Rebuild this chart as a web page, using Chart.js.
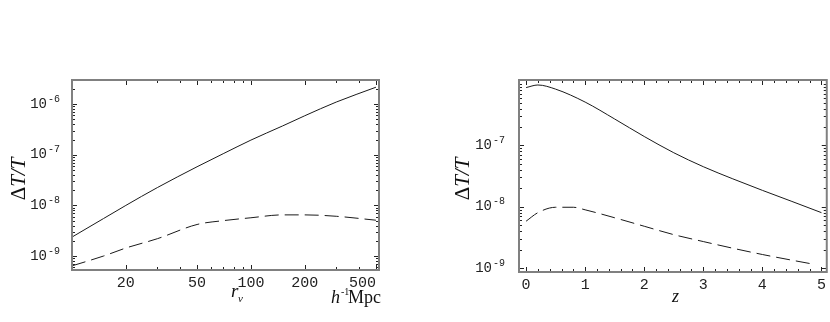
<!DOCTYPE html>
<html>
<head>
<meta charset="utf-8">
<script src="https://cdn.jsdelivr.net/npm/chart.js@4"></script>
<style>
  body { margin: 0; background: #fff; width: 830px; height: 322px; position: relative; overflow: hidden; }
  canvas { position: absolute; top: 0; }
  #leftPlot { left: 0; }
  #rightPlot { left: 415px; }
</style>
</head>
<body>
<canvas id="leftPlot" width="415" height="322"></canvas>
<canvas id="rightPlot" width="415" height="322"></canvas>
<script>
// === DATA === //
// left panel: dT/T against r_nu (h^-1 Mpc), log-log
const rNu        = [10, 15, 20, 30, 50, 70, 100, 150, 200, 300, 500];
const leftSolid  = [2.37e-9, 5.5e-9, 1.0e-8, 2.25e-8, 5.8e-8, 1.05e-7, 1.95e-7, 3.7e-7, 5.9e-7, 1.1e-6, 2.16e-6];
const leftDashed = [6.4e-10, 1.0e-9, 1.44e-9, 2.2e-9, 4.2e-9, 5.0e-9, 5.7e-9, 6.5e-9, 6.5e-9, 6.1e-9, 5.1e-9];
const leftXTicks  = [10, 20, 50, 100, 200, 500];
const leftXLabels = ["", "20", "50", "100", "200", "500"];
const leftYTicks  = [1e-9, 1e-8, 1e-7, 1e-6];
const leftYExps   = ["-9", "-8", "-7", "-6"];

// right panel: dT/T against redshift z
const zSolid      = [0, 0.2, 0.5, 1, 1.5, 2, 2.5, 3, 3.5, 4, 4.5, 5];
const rightSolid  = [8.8e-7, 9.7e-7, 8.3e-7, 5.1e-7, 2.7e-7, 1.4e-7, 7.6e-8, 4.5e-8, 2.85e-8, 1.85e-8, 1.22e-8, 8.0e-9];
const zDashed     = [0, 0.2, 0.5, 0.8, 1, 1.5, 2, 2.5, 3, 3.5, 4, 4.5, 4.85];
const rightDashed = [5.8e-9, 8e-9, 9.8e-9, 9.8e-9, 8.9e-9, 6.6e-9, 4.8e-9, 3.5e-9, 2.7e-9, 2.1e-9, 1.66e-9, 1.34e-9, 1.16e-9];
const rightXTicks = [0, 1, 2, 3, 4, 5];
const rightYTicks = [1e-9, 1e-8, 1e-7];
const rightYExps  = ["-9", "-8", "-7"];

// ---- helpers ---- //
const pts = (xs, ys) => xs.map((x, i) => ({ x, y: ys[i] }));

function logMinors(min, max) {
  const out = [];
  for (let e = Math.floor(Math.log10(min)); e <= Math.ceil(Math.log10(max)); e++) {
    for (let m = 1; m < 10; m++) {
      const v = m * Math.pow(10, e);
      if (v >= min && v <= max) out.push(v);
    }
  }
  return out;
}

// frame + inward ticks, Mathematica style
const frameTicks = {
  id: "frameTicks",
  afterDatasetsDraw(chart, args, o) {
    const { ctx, chartArea: a, scales: { x, y } } = chart;
    ctx.save();
    ctx.strokeStyle = "#222";
    ctx.lineWidth = 1;
    ctx.beginPath();
    o.xMinor.forEach(v => {
      const px = Math.round(x.getPixelForValue(v)) + 0.5;
      const len = o.xMajor.includes(v) ? 5 : 3;
      ctx.moveTo(px, a.bottom); ctx.lineTo(px, a.bottom - len);
      ctx.moveTo(px, a.top); ctx.lineTo(px, a.top + len);
    });
    o.yMinor.forEach(v => {
      const py = Math.round(y.getPixelForValue(v)) + 0.5;
      const len = o.yMajor.includes(v) ? 5 : 3;
      ctx.moveTo(a.left, py); ctx.lineTo(a.left + len, py);
      ctx.moveTo(a.right, py); ctx.lineTo(a.right - len, py);
    });
    ctx.stroke();
    ctx.strokeStyle = "#808080";
    ctx.lineWidth = 2;
    ctx.strokeRect(a.left, a.top, a.right - a.left, a.bottom - a.top);
    ctx.restore();
  }
};

// y tick labels as 10 with raised exponent, plus axis titles
const titles = {
  id: "titles",
  afterDraw(chart, args, o) {
    const { ctx, chartArea: a, scales: { y } } = chart;
    ctx.save();
    ctx.fillStyle = "#222";
    ctx.textBaseline = "middle";
    ctx.textAlign = "left";
    o.yTicks.forEach((v, i) => {
      const py = y.getPixelForValue(v);
      ctx.font = "10px 'Liberation Mono', monospace";
      const ew = ctx.measureText(o.yExps[i]).width;
      const xe = a.left - o.gap - ew;
      ctx.fillText(o.yExps[i], xe, py - 5);
      ctx.font = "14px 'Liberation Mono', monospace";
      const bw = ctx.measureText("10").width;
      ctx.fillText("10", xe - bw - 1, py);
    });
    ctx.fillStyle = "#111";
    ctx.textBaseline = "alphabetic";
    ctx.save();
    ctx.translate(o.yTitleX, o.yTitleY);
    ctx.rotate(-Math.PI / 2);
    ctx.font = "21px 'Liberation Serif'";
    const dw = ctx.measureText("Δ").width;
    ctx.font = "italic 21px 'Liberation Serif'";
    const tw = ctx.measureText("T/T").width;
    ctx.font = "21px 'Liberation Serif'";
    ctx.fillText("Δ", -(dw + tw) / 2, 0);
    ctx.font = "italic 21px 'Liberation Serif'";
    ctx.fillText("T/T", -(dw + tw) / 2 + dw, 0);
    ctx.restore();
    o.texts.forEach(t => {
      ctx.font = t.font;
      ctx.fillText(t.text, t.x, t.y);
    });
    ctx.restore();
  }
};

const tickFont = { family: "'Liberation Mono', monospace", size: 15 };
const lineStyle = { borderColor: "#1a1a1a", borderWidth: 1, pointRadius: 0, fill: false, cubicInterpolationMode: "monotone" };
const hiddenY = { display: true, autoSkip: false, callback: () => "" };

// ---- LEFT: r_nu ---- //
new Chart(document.getElementById("leftPlot"), {
  type: "line",
  data: {
    datasets: [
      { ...lineStyle, data: pts(rNu, leftSolid) },
      { ...lineStyle, data: pts(rNu, leftDashed), borderDash: [14, 6] }
    ]
  },
  options: {
    responsive: false, animation: false,
    layout: { padding: { left: 0, right: 36, top: 80, bottom: 0 } },
    plugins: {
      legend: { display: false }, tooltip: { enabled: false },
      frameTicks: {
        xMajor: leftXTicks, xMinor: logMinors(10, 520),
        yMajor: leftYTicks, yMinor: logMinors(5.3e-10, 3e-6)
      },
      titles: {
        yTicks: leftYTicks, yExps: leftYExps, gap: 12,
        yTitleX: 25, yTitleY: 179,
        texts: [
          { text: "r", x: 231, y: 297, font: "italic 19px 'Liberation Serif'" },
          { text: "ν", x: 238, y: 302, font: "italic 11px 'Liberation Serif'" },
          { text: "h", x: 331, y: 303, font: "italic 18px 'Liberation Serif'" },
          { text: "-1", x: 341, y: 295, font: "10px 'Liberation Serif'" },
          { text: "Mpc", x: 348, y: 303, font: "18px 'Liberation Serif'" }
        ]
      }
    },
    scales: {
      x: {
        type: "logarithmic", min: 10, max: 520,
        grid: { display: false, drawTicks: false }, border: { display: false },
        afterBuildTicks: s => { s.ticks = leftXTicks.map(v => ({ value: v })); },
        afterFit: s => { s.height = 52; },
        ticks: {
          autoSkip: false, maxRotation: 0, align: "inner", padding: 4,
          color: "#222", font: tickFont,
          callback: v => leftXLabels[leftXTicks.indexOf(v)]
        }
      },
      y: {
        type: "logarithmic", min: 5.3e-10, max: 3e-6,
        grid: { display: false, drawTicks: false }, border: { display: false },
        afterBuildTicks: s => { s.ticks = leftYTicks.map(v => ({ value: v })); },
        afterFit: s => { s.width = 72; },
        ticks: hiddenY
      }
    }
  },
  plugins: [frameTicks, titles]
});

// ---- RIGHT: z ---- //
const zMinor = [];
for (let i = 0; i <= 25; i++) zMinor.push(+(i * 0.2).toFixed(1));

new Chart(document.getElementById("rightPlot"), {
  type: "line",
  data: {
    datasets: [
      { ...lineStyle, data: pts(zSolid, rightSolid) },
      { ...lineStyle, data: pts(zDashed, rightDashed), borderDash: [14, 6] }
    ]
  },
  options: {
    responsive: false, animation: false,
    layout: { padding: { left: 0, right: 3, top: 80, bottom: 0 } },
    plugins: {
      legend: { display: false }, tooltip: { enabled: false },
      frameTicks: {
        xMajor: rightXTicks, xMinor: zMinor,
        yMajor: rightYTicks, yMinor: logMinors(8.6e-10, 1.17e-6)
      },
      titles: {
        yTicks: rightYTicks, yExps: rightYExps, gap: 14,
        yTitleX: 54, yTitleY: 179,
        texts: [
          { text: "z", x: 257, y: 302, font: "italic 18px 'Liberation Serif'" }
        ]
      }
    },
    scales: {
      x: {
        type: "linear", min: -0.12, max: 5.09,
        grid: { display: false, drawTicks: false }, border: { display: false },
        afterBuildTicks: s => { s.ticks = rightXTicks.map(v => ({ value: v })); },
        afterFit: s => { s.height = 50; },
        ticks: { autoSkip: false, maxRotation: 0, padding: 4, color: "#222", font: tickFont }
      },
      y: {
        type: "logarithmic", min: 8.6e-10, max: 1.17e-6,
        grid: { display: false, drawTicks: false }, border: { display: false },
        afterBuildTicks: s => { s.ticks = rightYTicks.map(v => ({ value: v })); },
        afterFit: s => { s.width = 104; },
        ticks: hiddenY
      }
    }
  },
  plugins: [frameTicks, titles]
});
</script>
</body>
</html>
